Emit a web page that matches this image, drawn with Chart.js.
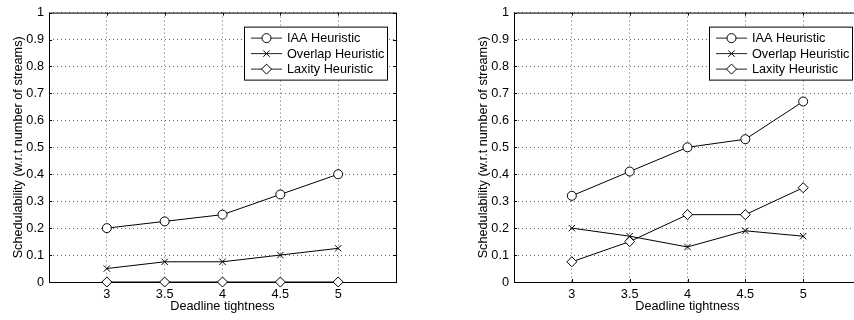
<!DOCTYPE html>
<html>
<head>
<meta charset="utf-8">
<script src="https://cdn.jsdelivr.net/npm/chart.js@4.4.0/dist/chart.umd.min.js"></script>
<style>
  html, body { margin: 0; padding: 0; background: #fff; overflow: hidden; width: 854px; height: 320px; position: relative; }
  canvas { position: absolute; top: 0; }
  #leftChart  { left: 0; }
  #rightChart { left: 427px; }
</style>
</head>
<body>
<canvas id="leftChart" width="427" height="320"></canvas>
<canvas id="rightChart" width="440" height="320"></canvas>
<script>
// ---- Data ------------------------------------------------
const deadlines    = [3, 3.5, 4, 4.5, 5];
const yTickValues  = [0, 0.1, 0.2, 0.3, 0.4, 0.5, 0.6, 0.7, 0.8, 0.9, 1];
const seriesLabels = ["IAA Heuristic", "Overlap Heuristic", "Laxity Heuristic"];

const leftIaa      = [0.2, 0.225, 0.25, 0.325, 0.4];
const leftOverlap  = [0.05, 0.075, 0.075, 0.1, 0.125];
const leftLaxity   = [0, 0, 0, 0, 0];

const rightIaa     = [0.32, 0.41, 0.5, 0.53, 0.67];
const rightOverlap = [0.2, 0.17, 0.13, 0.19, 0.17];
const rightLaxity  = [0.075, 0.15, 0.25, 0.25, 0.35];

const FONT = "'Liberation Sans', Arial, Helvetica, sans-serif";
const FSIZE = 12.7;
const markers = [
  { pointStyle: "circle",   radius: 4.5 },
  { pointStyle: "crossRot", radius: 4.5 },
  { pointStyle: "rectRot",  radius: 5 },
];

// ---- Box, inner ticks and MATLAB-style legend -------------
const matlabAxes = {
  id: "matlabAxes",
  beforeDatasetsDraw(chart) {
    const { ctx, chartArea: a, scales: { x, y } } = chart;
    ctx.save();
    ctx.strokeStyle = "#000";
    ctx.lineWidth = 1;
    ctx.strokeRect(a.left + 0.5, a.top + 0.5, a.right - a.left, a.bottom - a.top);
    ctx.beginPath();
    deadlines.forEach((v) => {
      const px = Math.round(x.getPixelForValue(v)) + 0.5;
      ctx.moveTo(px, a.bottom); ctx.lineTo(px, a.bottom - 3);
      ctx.moveTo(px, a.top);    ctx.lineTo(px, a.top + 3);
    });
    yTickValues.forEach((v) => {
      const py = Math.round(y.getPixelForValue(v)) + 0.5;
      ctx.moveTo(a.left, py);  ctx.lineTo(a.left + 3, py);
      ctx.moveTo(a.right, py); ctx.lineTo(a.right - 3, py);
    });
    ctx.stroke();
    ctx.restore();
  },
  afterDraw(chart) {
    const { ctx, chartArea: a } = chart;
    const bx = a.right - 152, by = a.top + 14, bw = 143, bh = 53;
    ctx.save();
    ctx.fillStyle = "#fff";
    ctx.fillRect(bx, by, bw, bh);
    ctx.strokeStyle = "#000";
    ctx.lineWidth = 1;
    ctx.strokeRect(bx + 0.5, by + 0.5, bw, bh);
    chart.data.datasets.forEach((ds, i) => {
      const ry = by + 11.5 + i * 15.5;
      ctx.strokeStyle = "#222";
      ctx.beginPath();
      ctx.moveTo(bx + 7, ry); ctx.lineTo(bx + 38, ry);
      ctx.stroke();
      ctx.fillStyle = "#fff";
      ctx.strokeStyle = "#000";
      ctx.lineWidth = 1;
      Chart.helpers.drawPoint(ctx, { pointStyle: ds.pointStyle, radius: ds.pointRadius, rotation: 0, borderWidth: 1 }, bx + 22.5, ry);
      ctx.fillStyle = "#000";
      ctx.font = `${FSIZE}px ${FONT}`;
      ctx.textBaseline = "middle";
      ctx.fillText(ds.label, bx + 43, ry + 0.5);
    });
    ctx.restore();
  },
};

// ---- Build one chart ---------------------------------------
function makeChart(id, values, padLeft, padRight) {
  const datasets = values.map((vals, i) => ({
    label: seriesLabels[i],
    data: deadlines.map((d, j) => ({ x: d, y: vals[j] })),
    borderColor: "#000",
    borderWidth: 1,
    backgroundColor: "#fff",
    pointStyle: markers[i].pointStyle,
    pointRadius: markers[i].radius,
    pointBorderColor: "#000",
    pointBackgroundColor: "#fff",
    pointBorderWidth: 1,
    tension: 0,
    clip: false,
  }));

  return new Chart(document.getElementById(id), {
    type: "line",
    data: { datasets },
    options: {
      responsive: false,
      animation: false,
      layout: { padding: { left: padLeft, right: padRight, top: 8, bottom: 0 } },
      plugins: { legend: { display: false }, tooltip: { enabled: false } },
      scales: {
        x: {
          type: "linear",
          min: 2.5,
          max: 5.5,
          afterBuildTicks: (s) => { s.ticks = deadlines.map((v) => ({ value: v })); },
          afterFit: (s) => { s.height = 38; },
          grid: { color: "#666", lineWidth: 1, drawTicks: false },
          border: { display: false, dash: [1, 3] },
          ticks: { color: "#000", padding: 5, font: { family: FONT, size: FSIZE }, callback: (v) => String(v), maxRotation: 0 },
          title: { display: true, text: "Deadline tightness", color: "#000", font: { family: FONT, size: FSIZE }, padding: { top: 0, bottom: 6 } },
        },
        y: {
          min: 0,
          max: 1,
          afterBuildTicks: (s) => { s.ticks = yTickValues.map((v) => ({ value: v })); },
          afterFit: (s) => { s.width = 49; },
          grid: { color: "#666", lineWidth: 1, drawTicks: false },
          border: { display: false, dash: [1, 3] },
          ticks: { color: "#000", padding: 5, font: { family: FONT, size: FSIZE }, callback: (v) => String(Math.round(v * 10) / 10) },
          title: { display: true, text: "Schedulability (w.r.t number of streams)", color: "#000", font: { family: FONT, size: FSIZE }, padding: { top: 11, bottom: 0 } },
        },
      },
    },
    plugins: [matlabAxes],
  });
}

makeChart("leftChart",  [leftIaa,  leftOverlap,  leftLaxity],  0, 31);
makeChart("rightChart", [rightIaa, rightOverlap, rightLaxity], 38, 6);
</script>
</body>
</html>
